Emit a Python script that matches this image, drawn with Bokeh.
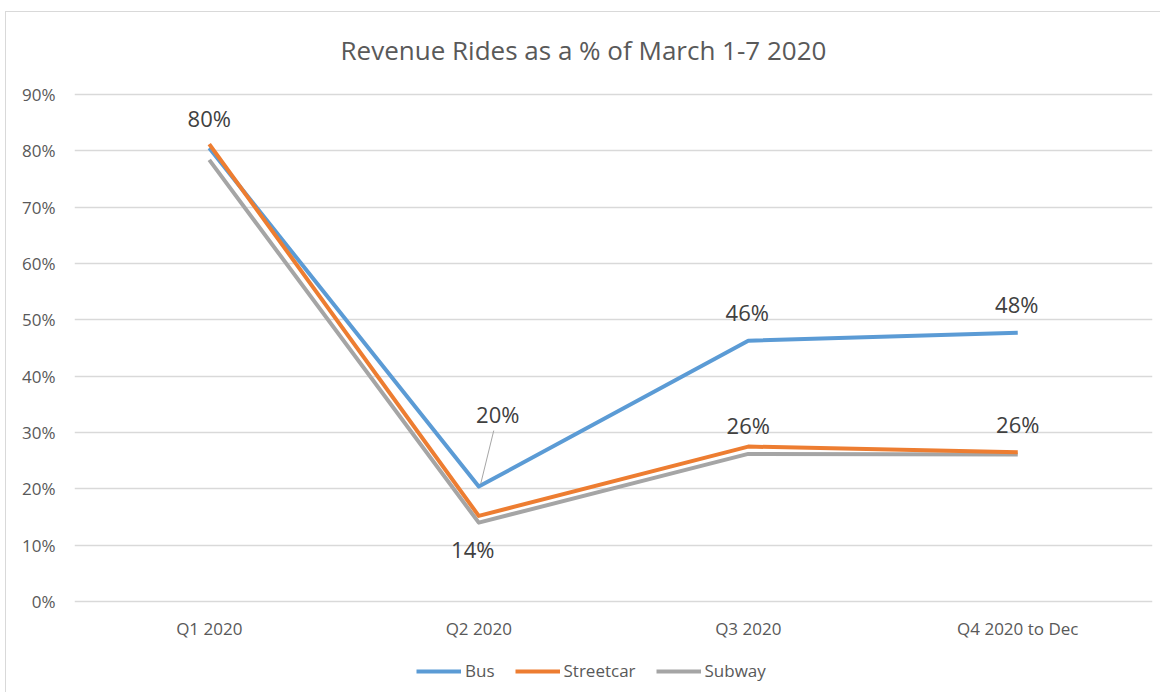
from bokeh.plotting import figure
from bokeh.models import (Range1d, FixedTicker, Legend, LegendItem, Label,
                          LabelSet, ColumnDataSource)
from bokeh.core.properties import value
from bokeh.embed import file_html
from bokeh.resources import INLINE

# ---------------- data ----------------
categories = ["Q1 2020", "Q2 2020", "Q3 2020", "Q4 2020 to Dec"]
bus = [0.805, 0.204, 0.463, 0.477]
streetcar = [0.812, 0.152, 0.275, 0.265]
subway = [0.784, 0.140, 0.262, 0.261]
y_ticks = [0.0, 0.1, 0.2, 0.3, 0.4, 0.5, 0.6, 0.7, 0.8, 0.9]
y_tick_labels = ["0%", "10%", "20%", "30%", "40%", "50%", "60%", "70%", "80%", "90%"]

# data labels: which series / category, and the text shown
label_series = ["Bus", "Bus", "Subway", "Bus", "Subway", "Bus", "Subway"]
label_cat = [0, 1, 1, 2, 2, 3, 3]
label_text = ["80%", "20%", "14%", "46%", "26%", "48%", "26%"]

title_text = "Revenue Rides as a % of March 1-7 2020"

# ---------------- styling / layout ----------------
FONT = "Open Sans"
COL_BUS = "#5B9BD5"
COL_STREET = "#ED7D31"
COL_SUBWAY = "#A5A5A5"
TXT_AXIS = "#595959"
TXT_LABEL = "#404040"

W, H = 1160, 692
LEFT, RIGHT = 74, 1152          # pixel extent of the category area
TOP_PX, ZERO_PX = 94, 601       # pixel rows of the 90% and 0% lines
PX_PER_UNIT = (ZERO_PX - TOP_PX) / 0.9
y_lo = -(H - ZERO_PX) / PX_PER_UNIT
y_hi = 0.9 + TOP_PX / PX_PER_UNIT

xs = [i + 0.5 for i in range(len(categories))]
series_vals = {"Bus": bus, "Streetcar": streetcar, "Subway": subway}
px_x = len(categories) / (RIGHT - LEFT)
px_y = 1.0 / PX_PER_UNIT

p = figure(width=W, height=H, output_backend="svg", toolbar_location=None,
           x_range=Range1d(0, len(categories)), y_range=Range1d(y_lo, y_hi),
           min_border_left=LEFT, min_border_right=W - RIGHT,
           min_border_top=0, min_border_bottom=0)
p.outline_line_color = None
p.background_fill_color = None
p.border_fill_color = None
# light chart-area border (left and top edges), drawn as a CSS background
p.styles = {
    "background": ("linear-gradient(#d9d9d9,#d9d9d9) 5px 11px / 1px 100% no-repeat, "
                   "linear-gradient(#d9d9d9,#d9d9d9) 5px 11px / 100% 1px no-repeat, "
                   "white"),
}

# axes
p.xaxis.ticker = FixedTicker(ticks=xs)
p.xaxis.major_label_overrides = {x: c for x, c in zip(xs, categories)}
p.xaxis.fixed_location = 0
p.yaxis.ticker = FixedTicker(ticks=y_ticks)
p.yaxis.major_label_overrides = {t: l for t, l in zip(y_ticks, y_tick_labels)}
for ax in (p.xaxis, p.yaxis):
    ax.axis_line_color = None
    ax.major_tick_line_color = None
    ax.minor_tick_line_color = None
    ax.major_tick_out = 0
    ax.major_tick_in = 0
    ax.major_label_text_font = FONT
    ax.major_label_text_font_size = "17px"
    ax.major_label_text_color = TXT_AXIS
p.yaxis.major_label_standoff = 19
p.xaxis.major_label_standoff = 15

p.xgrid.grid_line_color = None
p.ygrid.ticker = FixedTicker(ticks=y_ticks)
p.ygrid.grid_line_color = "#d9d9d9"
p.ygrid.grid_line_width = 1.3

# lines
r_bus = p.line(xs, bus, line_color=COL_BUS, line_width=4, line_join="round")
r_sub = p.line(xs, subway, line_color=COL_SUBWAY, line_width=4, line_join="round")
r_str = p.line(xs, streetcar, line_color=COL_STREET, line_width=4, line_join="round")

# leader line for the Q2 bus label (pixel offsets converted to data units)
p.segment(x0=[xs[1] + 2 * px_x], y0=[bus[1] + 3 * px_y],
          x1=[xs[1] + 15 * px_x], y1=[bus[1] + 56 * px_y],
          line_color="#a6a6a6", line_width=1)

# data labels
label_dx = [0, 19, -6, -1, 0, -1, 0]
label_dy = [30, 73, -26, 29, 29, 29, 30]
src = ColumnDataSource(dict(
    x=[xs[c] for c in label_cat],
    y=[series_vals[s][c] for s, c in zip(label_series, label_cat)],
    text=label_text, dx=label_dx, dy=label_dy))
p.add_layout(LabelSet(x="x", y="y", text="text", source=src,
                      x_offset="dx", y_offset="dy",
                      text_align="center", text_baseline="middle",
                      text_font=value(FONT), text_font_size=value("22px"),
                      text_color=TXT_LABEL))

# title, centred on the whole chart area
p.add_layout(Label(x=(583 - LEFT) * px_x, y=0.9, y_offset=TOP_PX - 49,
                   text=title_text, text_align="center", text_baseline="middle",
                   text_font=FONT, text_font_size="26px", text_color=TXT_AXIS))

# legend
legend = Legend(items=[LegendItem(label="Bus", renderers=[r_bus]),
                       LegendItem(label="Streetcar", renderers=[r_str]),
                       LegendItem(label="Subway", renderers=[r_sub])],
                orientation="horizontal", location=(342, 10),
                glyph_width=45, glyph_height=16, label_standoff=4, spacing=20,
                padding=0, margin=0, border_line_color=None,
                background_fill_alpha=0,
                label_text_font=FONT, label_text_font_size="17px",
                label_text_color=TXT_AXIS)
p.add_layout(legend, "center")

open("out.html", "w").write(file_html(p, INLINE))
